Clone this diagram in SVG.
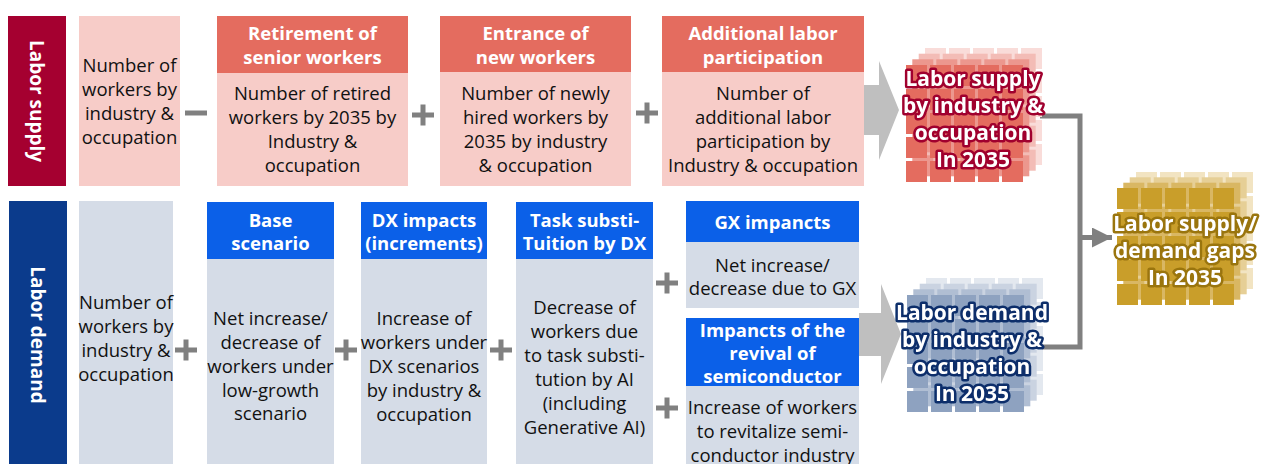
<svg xmlns="http://www.w3.org/2000/svg" xmlns:xlink="http://www.w3.org/1999/xlink" width="1263" height="464" viewBox="0 0 1263 464">
<style>
.body{font-family:"Open Sans","Noto Sans","Liberation Sans",sans-serif;font-size:18.5px;fill:#111;text-anchor:middle}
.hdr{font-family:"Open Sans","Noto Sans","Liberation Sans",sans-serif;font-size:18.5px;font-weight:700;fill:#fff;text-anchor:middle}
.side{font-family:"Open Sans","Noto Sans","Liberation Sans",sans-serif;font-size:19px;font-weight:700;fill:#fff;text-anchor:middle}
.big{font-family:"Open Sans","Noto Sans","Liberation Sans",sans-serif;font-size:21px;font-weight:700;fill:#fff;text-anchor:middle;stroke-width:5;stroke-linejoin:round;paint-order:stroke}
.sup-txt{stroke:#A0002E}
.dem-txt{stroke:#0A2D6B}
.gap-txt{stroke:#9A7410}
.pink{fill:#F7CCC8}
.coral{fill:#E46C5F}
.grey{fill:#D5DCE7}
.blue{fill:#0B60E8}
.sign{stroke:#808080;stroke-width:5;fill:none}
.bigarrow{fill:#BFBFBF}
.conn{stroke:#808080;stroke-width:5;fill:none}
</style>
<defs>
<g id="grid5">
<rect x="0" y="0" width="21" height="21"/><rect x="24" y="0" width="21" height="21"/><rect x="48" y="0" width="21" height="21"/><rect x="72" y="0" width="21" height="21"/><rect x="96" y="0" width="21" height="21"/>
<rect x="0" y="24" width="21" height="21"/><rect x="24" y="24" width="21" height="21"/><rect x="48" y="24" width="21" height="21"/><rect x="72" y="24" width="21" height="21"/><rect x="96" y="24" width="21" height="21"/>
<rect x="0" y="48" width="21" height="21"/><rect x="24" y="48" width="21" height="21"/><rect x="48" y="48" width="21" height="21"/><rect x="72" y="48" width="21" height="21"/><rect x="96" y="48" width="21" height="21"/>
<rect x="0" y="72" width="21" height="21"/><rect x="24" y="72" width="21" height="21"/><rect x="48" y="72" width="21" height="21"/><rect x="72" y="72" width="21" height="21"/><rect x="96" y="72" width="21" height="21"/>
<rect x="0" y="96" width="21" height="21"/><rect x="24" y="96" width="21" height="21"/><rect x="48" y="96" width="21" height="21"/><rect x="72" y="96" width="21" height="21"/><rect x="96" y="96" width="21" height="21"/>
</g>
<path id="plus" d="M-11,0H11M0,-10.5V10.5"/>
<marker id="ah" viewBox="0 0 10 10" refX="10" refY="5" markerWidth="4" markerHeight="4" markerUnits="strokeWidth" orient="auto">
<path d="M0,0L10,5L0,10Z" fill="#808080"/>
</marker>
<filter id="soft" x="-10%" y="-30%" width="120%" height="160%">
<feGaussianBlur in="SourceGraphic" stdDeviation="0.6"/>
</filter>
</defs>

<!-- Labor supply row -->
<g id="labor-supply-label">
<rect x="8" y="16" width="58" height="170" fill="#A50030"/>
<text class="side" transform="translate(30,101) rotate(90)">Labor supply</text>
</g>
<g id="supply-current">
<rect class="pink" x="79" y="16" width="101" height="170"/>
<text class="body" x="129.5" y="72">Number of</text>
<text class="body" x="129.5" y="96">workers by</text>
<text class="body" x="129.5" y="120">industry &amp;</text>
<text class="body" x="129.5" y="144">occupation</text>
</g>
<g id="supply-retirement">
<rect class="coral" x="217" y="16" width="191" height="57"/>
<rect class="pink" x="217" y="73" width="191" height="113"/>
<text class="hdr" x="312.5" y="39.5">Retirement of</text>
<text class="hdr" x="312.5" y="63.5">senior workers</text>
<text class="body" x="312.5" y="99.5">Number of retired</text>
<text class="body" x="312.5" y="123.5">workers by 2035 by</text>
<text class="body" x="312.5" y="147.5">Industry &amp;</text>
<text class="body" x="312.5" y="171.5">occupation</text>
</g>
<g id="supply-entrance">
<rect class="coral" x="440" y="16" width="191" height="56"/>
<rect class="pink" x="440" y="72" width="191" height="114"/>
<text class="hdr" x="535.5" y="39.5">Entrance of</text>
<text class="hdr" x="535.5" y="63.5">new workers</text>
<text class="body" x="535.5" y="99.5">Number of newly</text>
<text class="body" x="535.5" y="123.5">hired workers by</text>
<text class="body" x="535.5" y="147.5">2035 by industry</text>
<text class="body" x="535.5" y="171.5">&amp; occupation</text>
</g>
<g id="supply-additional">
<rect class="coral" x="662" y="16" width="202" height="56"/>
<rect class="pink" x="662" y="72" width="202" height="114"/>
<text class="hdr" x="763" y="39.5">Additional labor</text>
<text class="hdr" x="763" y="63.5">participation</text>
<text class="body" x="763" y="99.5">Number of</text>
<text class="body" x="763" y="123.5">additional labor</text>
<text class="body" x="763" y="147.5">participation by</text>
<text class="body" x="763" y="171.5">Industry &amp; occupation</text>
</g>

<!-- Labor demand row -->
<g id="labor-demand-label">
<rect x="9" y="201" width="58" height="263" fill="#0B3B8C"/>
<text class="side" transform="translate(31,335) rotate(90)">Labor demand</text>
</g>
<g id="demand-current">
<rect class="grey" x="79" y="201" width="94" height="263"/>
<text class="body" x="126" y="308.5">Number of</text>
<text class="body" x="126" y="332.5">workers by</text>
<text class="body" x="126" y="356.5">industry &amp;</text>
<text class="body" x="126" y="380.5">occupation</text>
</g>
<g id="demand-base">
<rect class="blue" x="207" y="202" width="127" height="57"/>
<rect class="grey" x="207" y="259" width="127" height="205"/>
<text class="hdr" x="270.5" y="226.5">Base</text>
<text class="hdr" x="270.5" y="249.5">scenario</text>
<text class="body" x="270.5" y="324.5">Net increase/</text>
<text class="body" x="270.5" y="348.5">decrease of</text>
<text class="body" x="270.5" y="372.5">workers under</text>
<text class="body" x="270.5" y="396.5">low-growth</text>
<text class="body" x="270.5" y="420">scenario</text>
</g>
<g id="demand-dx">
<rect class="blue" x="361" y="202" width="126" height="57"/>
<rect class="grey" x="361" y="259" width="126" height="205"/>
<text class="hdr" x="424" y="226.5">DX impacts</text>
<text class="hdr" x="424" y="249.5">(increments)</text>
<text class="body" x="424" y="324.5">Increase of</text>
<text class="body" x="424" y="348.5">workers under</text>
<text class="body" x="424" y="372.5">DX scenarios</text>
<text class="body" x="424" y="396.5">by industry &amp;</text>
<text class="body" x="424" y="420.5">occupation</text>
</g>
<g id="demand-task">
<rect class="blue" x="516" y="202" width="137" height="57"/>
<rect class="grey" x="516" y="259" width="137" height="205"/>
<text class="hdr" x="584.5" y="226.5">Task substi-</text>
<text class="hdr" x="584.5" y="249.5">Tuition by DX</text>
<text class="body" x="584.5" y="313.5">Decrease of</text>
<text class="body" x="584.5" y="337.5">workers due</text>
<text class="body" x="584.5" y="361.5">to task substi-</text>
<text class="body" x="584.5" y="385.5">tution by AI</text>
<text class="body" x="584.5" y="409.5">(including</text>
<text class="body" x="584.5" y="433.5">Generative AI)</text>
</g>
<g id="demand-gx">
<rect class="blue" x="686" y="201" width="173" height="41"/>
<rect class="grey" x="686" y="242" width="173" height="66"/>
<text class="hdr" x="772.5" y="228.5">GX impancts</text>
<text class="body" x="772.5" y="271.5">Net increase/</text>
<text class="body" x="772.5" y="295">decrease due to GX</text>
</g>
<g id="demand-semiconductor">
<rect class="blue" x="686" y="318" width="173" height="68"/>
<rect class="grey" x="686" y="386" width="173" height="78"/>
<text class="hdr" x="772.5" y="336.5">Impancts of the</text>
<text class="hdr" x="772.5" y="359.5">revival of</text>
<text class="hdr" x="772.5" y="383">semiconductor</text>
<text class="body" x="772.5" y="413.5">Increase of workers</text>
<text class="body" x="772.5" y="437.5">to revitalize semi-</text>
<text class="body" x="772.5" y="461.5">conductor industry</text>
</g>

<!-- operators -->
<g id="operators" class="sign">
<path d="M185,113H207"/>
<use xlink:href="#plus" x="423" y="115"/>
<use xlink:href="#plus" x="647" y="113"/>
<use xlink:href="#plus" x="186" y="350"/>
<use xlink:href="#plus" x="346" y="350"/>
<use xlink:href="#plus" x="501" y="350"/>
<use xlink:href="#plus" x="667" y="283"/>
<use xlink:href="#plus" x="667" y="408"/>
</g>

<!-- connectors -->
<g id="connectors">
<path class="bigarrow" d="M864,85H879V61L899,110L879,160V135H864Z"/>
<path class="bigarrow" d="M859,313H881V284L901,334L881,384V356H859Z"/>
<path class="conn" d="M1040,116H1080V347H1042"/>
<path class="conn" d="M1080,237.5H1112" marker-end="url(#ah)"/>
</g>

<!-- result nodes -->
<g id="supply-2035">
<use xlink:href="#grid5" x="925" y="48" fill="#F9DCD9"/>
<use xlink:href="#grid5" x="918.7" y="53.7" fill="#F3BCB6"/>
<use xlink:href="#grid5" x="912.3" y="59.3" fill="#EC978E"/>
<use xlink:href="#grid5" x="906" y="65" fill="#E46C5F"/>
<g filter="url(#soft)">
<text class="big sup-txt" x="973" y="86">Labor supply</text>
<text class="big sup-txt" x="973" y="113">by industry &amp;</text>
<text class="big sup-txt" x="973" y="140">occupation</text>
<text class="big sup-txt" x="973" y="167">In 2035</text>
</g>
</g>
<g id="demand-2035">
<use xlink:href="#grid5" x="926" y="278" fill="#E3E8EF"/>
<use xlink:href="#grid5" x="919.7" y="283.7" fill="#CAD3E1"/>
<use xlink:href="#grid5" x="913.3" y="289.3" fill="#B0BED3"/>
<use xlink:href="#grid5" x="907" y="295" fill="#8EA2C0"/>
<g filter="url(#soft)">
<text class="big dem-txt" x="972" y="320">Labor demand</text>
<text class="big dem-txt" x="972" y="347">by industry &amp;</text>
<text class="big dem-txt" x="972" y="374">occupation</text>
<text class="big dem-txt" x="972" y="401">In 2035</text>
</g>
</g>
<g id="gaps-2035">
<use xlink:href="#grid5" x="1136" y="172" fill="#F2E4C2"/>
<use xlink:href="#grid5" x="1129.7" y="177.3" fill="#E6CF96"/>
<use xlink:href="#grid5" x="1123.3" y="182.7" fill="#D9B763"/>
<use xlink:href="#grid5" x="1117" y="188" fill="#C99E2A"/>
<g filter="url(#soft)">
<text class="big gap-txt" x="1185" y="231">Labor supply/</text>
<text class="big gap-txt" x="1185" y="258">demand gaps</text>
<text class="big gap-txt" x="1185" y="285">In 2035</text>
</g>
</g>
</svg>
